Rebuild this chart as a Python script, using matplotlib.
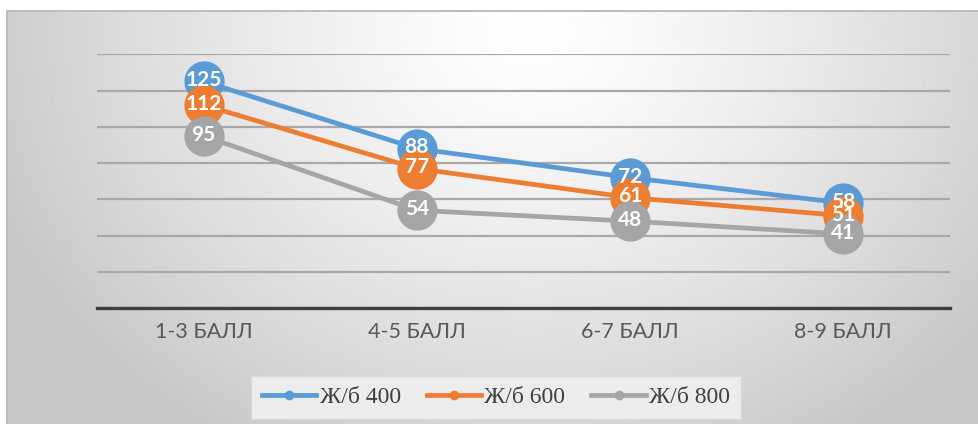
import numpy as np
import matplotlib
matplotlib.use("Agg")
import matplotlib.pyplot as plt
from matplotlib.lines import Line2D

# Data
categories = ["1-3 БАЛЛ", "4-5 БАЛЛ", "6-7 БАЛЛ", "8-9 БАЛЛ"]
series_names = ["Ж/б 400", "Ж/б 600", "Ж/б 800"]
values_400 = [125, 88, 72, 58]
values_600 = [112, 77, 61, 51]
values_800 = [95, 54, 48, 41]
colors = ["#5B9BD5", "#ED7D31", "#A5A5A5"]

W, H = 979, 424
fig = plt.figure(figsize=(W / 100, H / 100), dpi=100, facecolor="white")

# Radial grey background of the chart area
bx0, by0 = 7, 11
bg = fig.add_axes([bx0 / W, 0, 1 - bx0 / W, (H - by0) / H], zorder=0)
yy, xx = np.mgrid[by0:H, bx0:W].astype(float)
r = np.sqrt(((xx - 530) / 520) ** 2 + ((yy - 30) / 440) ** 2)
v = np.clip(1 - 0.19 * r ** 1.3, 0.785, 1.0)
bg.imshow(np.dstack([v, v, v]), aspect="auto", interpolation="bilinear",
          extent=[0, 1, 0, 1], origin="upper")
bg.set_xlim(0, 1)
bg.set_ylim(0, 1)
bg.axis("off")
bg.plot([0, 0, 1], [0, 1, 1], transform=bg.transAxes, color="#bdbdbd",
        lw=1.4, clip_on=False)

# Plot area
ax = fig.add_axes([97 / W, (H - 308.3) / H, 853 / W, (308.3 - 54.2) / H], zorder=2)
ax.patch.set_alpha(0)
x = np.arange(len(categories))
all_series = [values_400, values_600, values_800]

ax.set_xlim(-0.5, len(categories) - 0.5)
ax.set_ylim(0, 140)
ax.set_yticks(np.arange(0, 141, 20))
ax.yaxis.grid(True, color="#a8a8a8", lw=1.6)
ax.set_axisbelow(True)
for s in ["top", "right", "left"]:
    ax.spines[s].set_visible(False)
ax.spines["bottom"].set_color("#3f3f3f")
ax.spines["bottom"].set_linewidth(2.4)
ax.tick_params(axis="y", length=0, labelleft=False)
ax.tick_params(axis="x", length=0, pad=10, labelsize=15.5, labelcolor="#595959")
ax.set_xticks(x)
ax.set_xticklabels(categories, fontfamily="Lato")

for vals, col, name in zip(all_series, colors, series_names):
    ax.plot(x, vals, color=col, lw=3.4, marker="o", markersize=29,
            markeredgewidth=0, label=name, clip_on=False, zorder=3)

for vals in all_series:
    for xi, val in zip(x, vals):
        ax.text(xi, val + 0.6, str(val), ha="center", va="center", color="white",
                fontsize=15, fontweight="bold", fontfamily="Lato",
                zorder=5, clip_on=False)

handles = [Line2D([0], [0], color=c, lw=3.4, marker="o", markersize=7,
                  markeredgewidth=0) for c in colors]
leg = fig.legend(handles, series_names, loc="center",
                 bbox_to_anchor=(496 / W, (H - 397.5) / H), ncol=3,
                 frameon=True, fancybox=False, handlelength=2.3,
                 handletextpad=0.15, columnspacing=1.1, borderpad=0.45,
                 borderaxespad=0,
                 prop={"family": "Liberation Serif", "size": 17})
leg.get_frame().set_facecolor("#ececec")
leg.get_frame().set_edgecolor("#d9d9d9")
leg.get_frame().set_alpha(1)
for t in leg.get_texts():
    t.set_color("#404040")

fig.savefig("out.png", dpi=100, facecolor="white")
